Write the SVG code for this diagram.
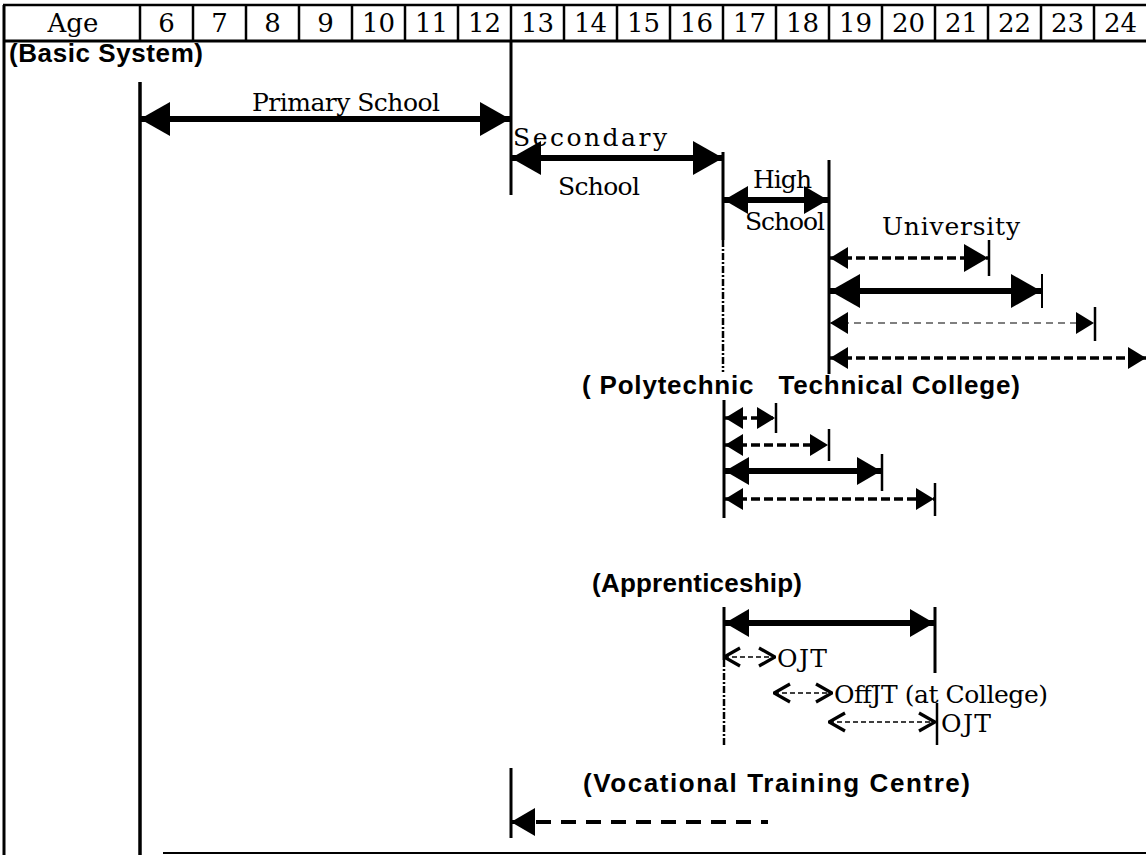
<svg xmlns="http://www.w3.org/2000/svg" width="1146" height="855" viewBox="0 0 1146 855">
<style>
.hd{font-family:"DejaVu Serif","Liberation Serif",serif;font-size:26px;fill:#000;text-anchor:middle}
.sr{font-family:"DejaVu Serif","Liberation Serif",serif;font-size:25px;fill:#000}
.bd{font-family:"Liberation Sans","Arial",sans-serif;font-weight:bold;font-size:26px;fill:#000;white-space:pre}
.ln{stroke:#000;fill:none}
.solid{stroke:#000;stroke-width:6;fill:none}
.dash{stroke:#000;stroke-width:3.5;fill:none;stroke-dasharray:9 4}
.thin{stroke:#555;stroke-width:1.3;fill:none;stroke-dasharray:7 5}
.dot{stroke:#000;stroke-width:2.5;fill:none;stroke-dasharray:7 2 2 2}
.opn{stroke:#000;stroke-width:1.6;fill:none;stroke-dasharray:5 3}
</style>
<defs>
<marker id="mb" viewBox="0 0 30 34" refX="30" refY="17" markerWidth="30" markerHeight="34" markerUnits="userSpaceOnUse" orient="auto-start-reverse"><path d="M0,0 L30,17 L0,34 Z" fill="#000"/></marker>
<marker id="mm" viewBox="0 0 24 28" refX="24" refY="14" markerWidth="24" markerHeight="28" markerUnits="userSpaceOnUse" orient="auto-start-reverse"><path d="M0,0 L24,14 L0,28 Z" fill="#000"/></marker>
<marker id="ms" viewBox="0 0 18 22" refX="18" refY="11" markerWidth="18" markerHeight="22" markerUnits="userSpaceOnUse" orient="auto-start-reverse"><path d="M0,0 L18,11 L0,22 Z" fill="#000"/></marker>
<marker id="mo" viewBox="0 0 18 22" refX="17" refY="11" markerWidth="18" markerHeight="22" markerUnits="userSpaceOnUse" orient="auto-start-reverse"><path d="M1,2 L17,11 L1,20" fill="none" stroke="#000" stroke-width="3.2"/></marker>
</defs>
<rect width="1146" height="855" fill="#fff"/>

<g id="header">
<line class="ln" x1="3" y1="5" x2="1146" y2="5" stroke-width="2.5"/>
<line class="ln" x1="3" y1="41" x2="1146" y2="41" stroke-width="3"/>
<g class="ln" stroke-width="2.5">
<line x1="140" y1="5" x2="140" y2="41"/><line x1="193" y1="5" x2="193" y2="41"/><line x1="246" y1="5" x2="246" y2="41"/>
<line x1="299" y1="5" x2="299" y2="41"/><line x1="352" y1="5" x2="352" y2="41"/><line x1="405" y1="5" x2="405" y2="41"/>
<line x1="458" y1="5" x2="458" y2="41"/><line x1="511" y1="5" x2="511" y2="41"/><line x1="564" y1="5" x2="564" y2="41"/>
<line x1="617" y1="5" x2="617" y2="41"/><line x1="670" y1="5" x2="670" y2="41"/><line x1="723" y1="5" x2="723" y2="41"/>
<line x1="776" y1="5" x2="776" y2="41"/><line x1="829" y1="5" x2="829" y2="41"/><line x1="882" y1="5" x2="882" y2="41"/>
<line x1="935" y1="5" x2="935" y2="41"/><line x1="988" y1="5" x2="988" y2="41"/><line x1="1041" y1="5" x2="1041" y2="41"/>
<line x1="1094" y1="5" x2="1094" y2="41"/>
</g>
<text class="hd" x="73" y="32">Age</text>
<text class="hd" x="166.5" y="32">6</text><text class="hd" x="219.5" y="32">7</text><text class="hd" x="272.5" y="32">8</text>
<text class="hd" x="325.5" y="32">9</text><text class="hd" x="378.5" y="32">10</text><text class="hd" x="431.5" y="32">11</text>
<text class="hd" x="484.5" y="32">12</text><text class="hd" x="537.5" y="32">13</text><text class="hd" x="590.5" y="32">14</text>
<text class="hd" x="643.5" y="32">15</text><text class="hd" x="696.5" y="32">16</text><text class="hd" x="749.5" y="32">17</text>
<text class="hd" x="802.5" y="32">18</text><text class="hd" x="855.5" y="32">19</text><text class="hd" x="908.5" y="32">20</text>
<text class="hd" x="961.5" y="32">21</text><text class="hd" x="1014.5" y="32">22</text><text class="hd" x="1067.5" y="32">23</text>
<text class="hd" x="1120.5" y="32">24</text>
</g>

<g id="frame">
<line class="ln" x1="4" y1="5" x2="4" y2="855" stroke-width="3"/>
<line class="ln" x1="140" y1="82" x2="140" y2="855" stroke-width="3.5"/>
<line class="ln" x1="511" y1="41" x2="511" y2="195" stroke-width="3"/>
<line class="ln" x1="163" y1="853" x2="1146" y2="853" stroke="#777" stroke-width="2"/>
<line class="ln" x1="745" y1="853" x2="1037" y2="853" stroke-width="2"/>
</g>

<g id="basic-system"><text class="bd" x="9" y="62" font-size="24" textLength="194">(Basic System)</text></g>

<g id="primary-school"><text class="sr" x="252" y="111" textLength="188">Primary School</text></g>
<g id="secondary-school"><text class="sr" x="513" y="146" font-size="26" textLength="154">Secondary</text><text class="sr" x="558" y="195" textLength="82">School</text></g>
<g id="high-school"><text class="sr" x="753" y="188" textLength="59">High</text><text class="sr" x="745" y="230" textLength="80">School</text></g>
<g id="university"><text class="sr" x="882" y="235" font-size="26" textLength="138">University</text></g>
<g id="polytechnic"><text class="bd" x="582" y="394" textLength="438">( Polytechnic   Technical College)</text></g>
<g id="apprenticeship"><text class="bd" x="592" y="592" textLength="210">(Apprenticeship)</text></g>
<g id="ojt1"><text class="sr" x="777" y="667" textLength="50">OJT</text></g>
<g id="offjt"><text class="sr" x="834" y="703" textLength="214">OffJT (at College)</text></g>
<g id="ojt2"><text class="sr" x="941" y="732" textLength="50">OJT</text></g>
<g id="vtc"><text class="bd" x="583" y="792" textLength="387">(Vocational Training Centre)</text></g>

<g id="connectors">
<line class="solid" x1="140" y1="119" x2="510" y2="119" marker-start="url(#mb)" marker-end="url(#mb)"/>
<line class="solid" x1="511" y1="158" x2="723" y2="158" marker-start="url(#mb)" marker-end="url(#mb)"/>
<line class="ln" x1="723" y1="152" x2="723" y2="240" stroke-width="3"/>
<line class="dot" x1="723" y1="240" x2="723" y2="372"/>
<line class="solid" x1="724" y1="200" x2="828" y2="200" stroke-width="5" marker-start="url(#mm)" marker-end="url(#mm)"/>
<line class="ln" x1="829" y1="160" x2="829" y2="374" stroke-width="3"/>

<line class="dash" x1="830" y1="258" x2="988" y2="258" marker-start="url(#ms)" marker-end="url(#mm)"/>
<line class="ln" x1="989" y1="240" x2="989" y2="276" stroke-width="2.5"/>
<line class="solid" x1="830" y1="291" x2="1041" y2="291" marker-start="url(#mb)" marker-end="url(#mb)"/>
<line class="ln" x1="1042" y1="274" x2="1042" y2="308" stroke-width="2"/>
<line class="thin" x1="830" y1="323" x2="1094" y2="323" marker-start="url(#ms)" marker-end="url(#ms)"/>
<line class="ln" x1="1095" y1="307" x2="1095" y2="341" stroke-width="2.5"/>
<line class="dash" x1="830" y1="358" x2="1146" y2="358" marker-start="url(#ms)" marker-end="url(#ms)"/>

<line class="ln" x1="724" y1="400" x2="724" y2="518" stroke-width="3"/>
<line class="dash" x1="725" y1="418" x2="775" y2="418" marker-start="url(#ms)" marker-end="url(#ms)"/>
<line class="ln" x1="776" y1="403" x2="776" y2="433" stroke-width="2.5"/>
<line class="dash" x1="725" y1="445" x2="828" y2="445" marker-start="url(#ms)" marker-end="url(#ms)"/>
<line class="ln" x1="829" y1="429" x2="829" y2="461" stroke-width="2.5"/>
<line class="solid" x1="725" y1="471" x2="881" y2="471" stroke-width="5" marker-start="url(#mm)" marker-end="url(#mm)"/>
<line class="ln" x1="882" y1="454" x2="882" y2="491" stroke-width="2.5"/>
<line class="dash" x1="725" y1="499" x2="934" y2="499" marker-start="url(#ms)" marker-end="url(#ms)"/>
<line class="ln" x1="935" y1="483" x2="935" y2="516" stroke-width="2.5"/>

<line class="ln" x1="724" y1="607" x2="724" y2="660" stroke-width="3"/>
<line class="dot" x1="724" y1="660" x2="724" y2="745"/>
<line class="solid" x1="725" y1="623" x2="934" y2="623" stroke-width="5" marker-start="url(#mm)" marker-end="url(#mm)"/>
<line class="ln" x1="935" y1="607" x2="935" y2="673" stroke-width="3"/>
<line class="opn" x1="724" y1="657" x2="775" y2="657" marker-start="url(#mo)" marker-end="url(#mo)"/>
<line class="opn" x1="774" y1="693" x2="832" y2="693" marker-start="url(#mo)" marker-end="url(#mo)"/>
<line class="opn" x1="829" y1="722" x2="935" y2="722" stroke-width="1.2" marker-start="url(#mo)" marker-end="url(#mo)"/>
<line class="ln" x1="937" y1="703" x2="937" y2="745" stroke-width="2.5"/>

<line class="ln" x1="511" y1="768" x2="511" y2="838" stroke-width="3"/>
<line class="ln" x1="511" y1="822" x2="768" y2="822" stroke-width="4" stroke-dasharray="15 10" marker-start="url(#mm)"/>
</g>
</svg>
